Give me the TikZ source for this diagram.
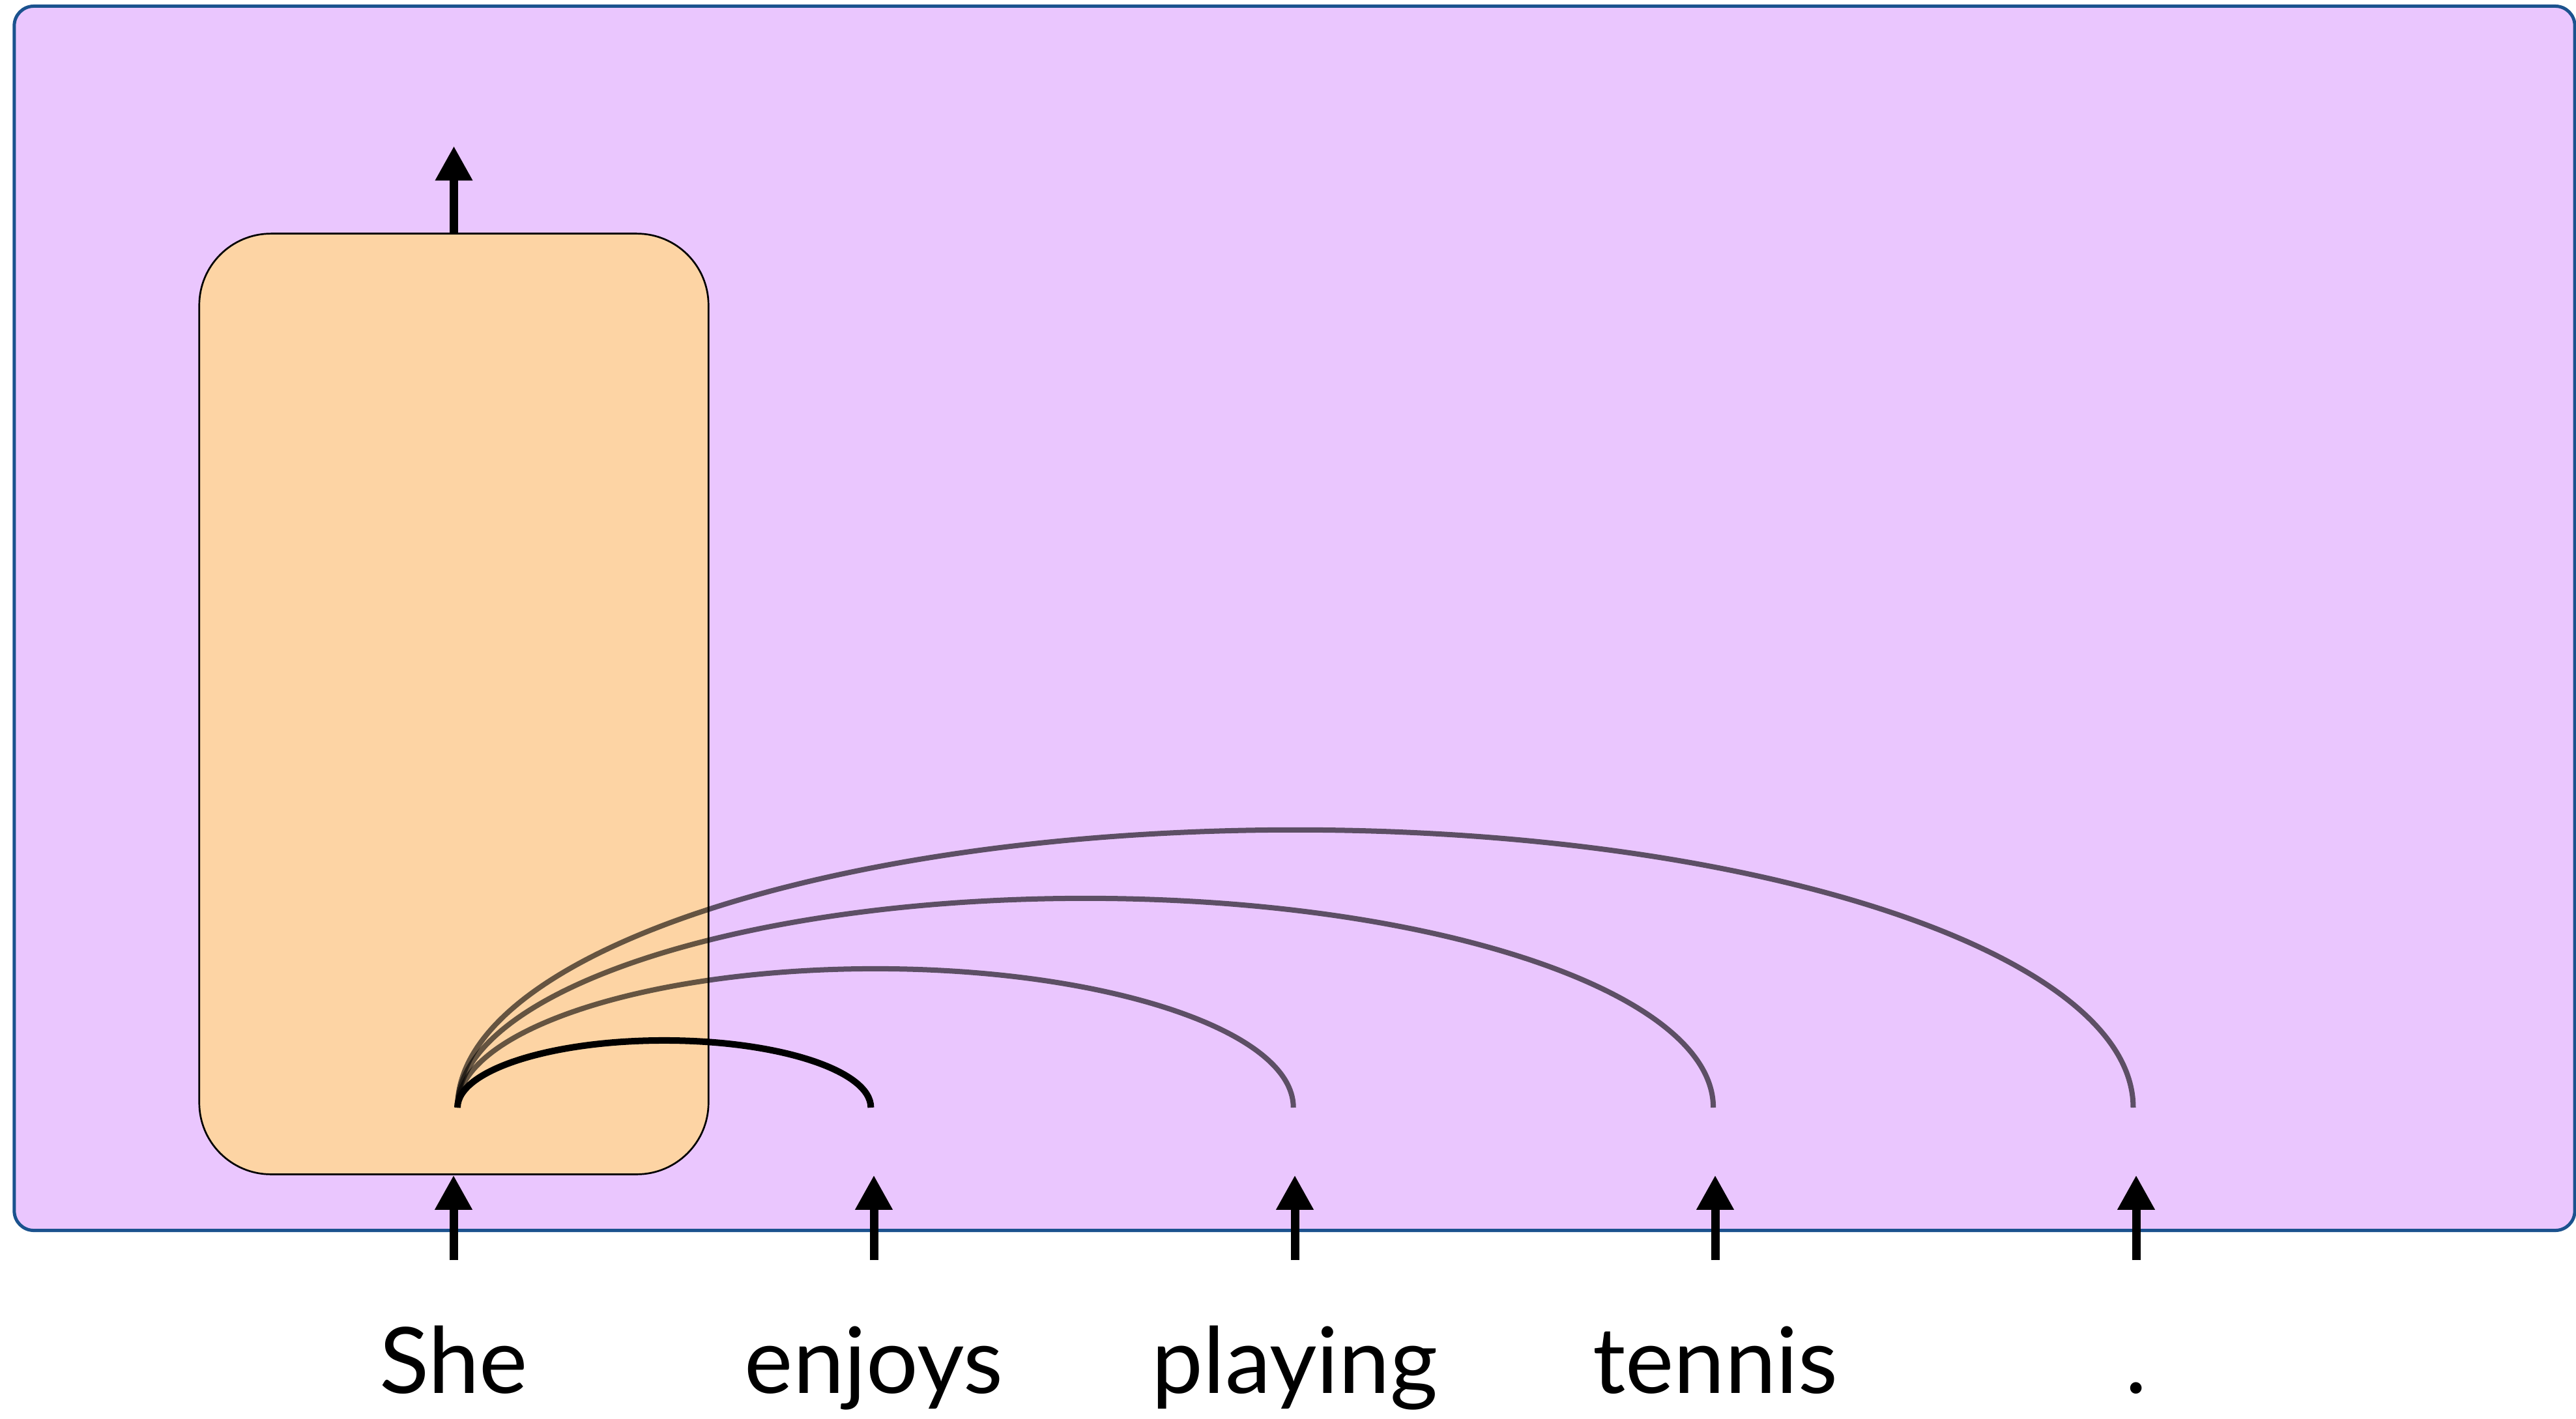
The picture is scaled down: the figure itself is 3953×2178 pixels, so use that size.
\documentclass[tikz,border=0pt]{standalone}
\usepackage{fontspec}
\setmainfont{Lato}
\usetikzlibrary{arrows.meta}

\definecolor{layerbg}{RGB}{234,198,254}
\definecolor{layerline}{RGB}{27,82,142}
\definecolor{cellbg}{RGB}{253,212,164}

\tikzset{
  layer/.style={draw=layerline, fill=layerbg, line width=0.05cm, rounded corners=0.3cm},
  cell/.style={draw=black, fill=cellbg, line width=0.027cm, rounded corners=1.1cm},
  flow/.style={line width=0.13cm, -{Triangle[length=0.53cm, width=0.54cm]}},
  attn/.style={line width=0.08cm, black, opacity=0.6},
  word/.style={anchor=base, inner sep=0pt, text height=1.05cm, text depth=0.3cm,
    font=\fontsize{40}{48}\selectfont},
}

\begin{document}
\begin{tikzpicture}[x=0.01cm, y=-0.01cm]
  \useasboundingbox (0,0) rectangle (3953,2178);
  \node[layer, minimum width=39.27cm, minimum height=18.78cm] (layer) at (1986.5,949) {};
  \node[cell, minimum width=7.81cm, minimum height=14.43cm] (cell) at (696.5,1080.5) {};

  % output of the first position
  \coordinate (out) at ([yshift=1.33cm]cell.north);
  \draw[flow] (cell.north) -- (out);

  % tokens and their inputs
  \foreach \w/\x [count=\i from 0] in {She/696, enjoys/1341, playing/1987, tennis/2632, ./3278} {
    \node[word] (w\i) at (\x,2138) {\w};
    \draw[flow, shorten <=0.98cm] (w\i.north) -- (w\i.north |- cell.south);
  }

  % attention from "She" to the later tokens
  \coordinate (src) at (702,1700);
  \foreach \a/\b in {12.85/4.26, 9.63/3.21, 6.41/2.13}
    \draw[attn] (src) arc[start angle=180, end angle=0, x radius=\a cm, y radius=\b cm];
  \draw[line width=0.1cm] (src) arc[start angle=180, end angle=0, x radius=3.17cm, y radius=1.03cm];
\end{tikzpicture}
\end{document}
